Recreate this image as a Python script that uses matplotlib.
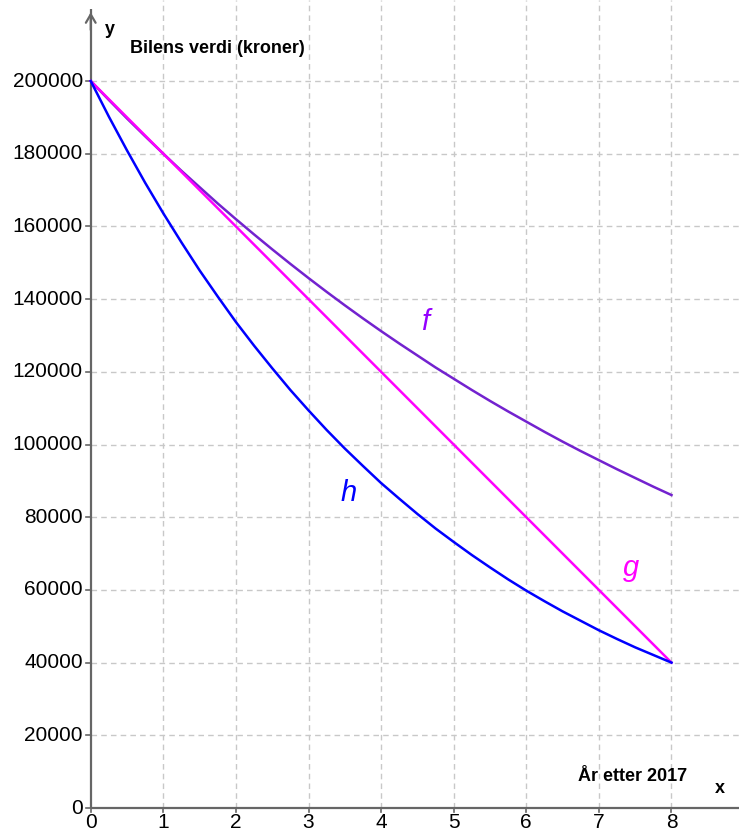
import matplotlib
matplotlib.use("Agg")
import matplotlib.pyplot as plt

plt.rcParams['font.family'] = ['Liberation Sans', 'DejaVu Sans']

# Data
x_vals = [0, 0.25, 0.5, 0.75, 1, 1.25, 1.5, 1.75, 2, 2.25, 2.5, 2.75, 3, 3.25, 3.5, 3.75,
          4, 4.25, 4.5, 4.75, 5, 5.25, 5.5, 5.75, 6, 6.25, 6.5, 6.75, 7, 7.25, 7.5, 7.75, 8]
f_vals = [200000, 194800, 189700, 184800, 180000, 175300, 170800, 166300, 162000, 157800,
          153700, 149700, 145800, 142000, 138300, 134700, 131200, 127800, 124500, 121200,
          118100, 115000, 112000, 109100, 106300, 103500, 100800, 98200, 95700, 93200,
          90800, 88400, 86100]
g_vals = [200000, 195000, 190000, 185000, 180000, 175000, 170000, 165000, 160000, 155000,
          150000, 145000, 140000, 135000, 130000, 125000, 120000, 115000, 110000, 105000,
          100000, 95000, 90000, 85000, 80000, 75000, 70000, 65000, 60000, 55000,
          50000, 45000, 40000]
h_vals = [200000, 190200, 180900, 172000, 163600, 155600, 147900, 140700, 133700, 127200,
          121000, 115000, 109400, 104000, 98900, 94100, 89400, 85100, 80900, 76900,
          73200, 69600, 66200, 62900, 59800, 56900, 54100, 51500, 48900, 46500,
          44200, 42100, 40000]

x_ticks = [0, 1, 2, 3, 4, 5, 6, 7, 8]
y_ticks = [0, 20000, 40000, 60000, 80000, 100000, 120000, 140000, 160000, 180000, 200000]

xmin, xmax = -1.25, 8.93
ymin, ymax = -6600, 222300

fig = plt.figure(figsize=(7.39, 8.32), dpi=100)
ax = fig.add_axes([0, 0, 1, 1])
ax.set_xlim(xmin, xmax)
ax.set_ylim(ymin, ymax)
for s in ax.spines.values():
    s.set_visible(False)
ax.set_xticks([])
ax.set_yticks([])

grid_kw = dict(color='#c8c8c8', linestyle=(0, (4, 3)), linewidth=1.0, zorder=1)
for xt in x_ticks[1:]:
    ax.vlines(xt, 0, ymax, **grid_kw)
for yt in y_ticks[1:]:
    ax.hlines(yt, 0, xmax, **grid_kw)

axis_col = '#666666'
ax.plot([0, xmax], [0, 0], color=axis_col, lw=1.6, zorder=2, solid_capstyle='butt')
ax.plot([0, 0], [0, ymax - 2500], color=axis_col, lw=1.6, zorder=2, solid_capstyle='butt')
ax.annotate('', xy=(0, ymax - 2600), xytext=(0, ymax - 9000),
            arrowprops=dict(arrowstyle='->,head_length=0.6,head_width=0.35', color=axis_col, lw=1.6))

for xt in x_ticks:
    ax.plot([xt, xt], [0, -1000], color=axis_col, lw=1.2, zorder=2)
for yt in y_ticks:
    ax.plot([0, -0.06], [yt, yt], color=axis_col, lw=1.2, zorder=2)

for xt in x_ticks:
    ax.text(xt, -1500, str(xt), ha='center', va='top', fontsize=15, color='black')
for yt in y_ticks:
    ax.text(-0.11, yt, str(yt), ha='right', va='center', fontsize=15, color='black')

ax.plot(x_vals, f_vals, color='#7322CF', lw=1.8, zorder=3)
ax.plot(x_vals, g_vals, color='#FF00FF', lw=1.8, zorder=3)
ax.plot(x_vals, h_vals, color='#0000FF', lw=1.8, zorder=3)

ax.text(4.60, 133700, 'f', color='#9400FF', fontsize=21, style='italic', ha='center', va='center')
ax.text(3.55, 86700, 'h', color='#0000FF', fontsize=21, style='italic', ha='center', va='center')
ax.text(7.45, 66000, 'g', color='#FF00FF', fontsize=21, style='italic', ha='center', va='center')

ax.text(0.26, 214200, 'y', fontsize=13, fontweight='bold', ha='center', va='center')
ax.text(0.54, 209000, 'Bilens verdi (kroner)', fontsize=13, fontweight='bold', ha='left', va='center')
ax.text(8.66, 5500, 'x', fontsize=13, fontweight='bold', ha='center', va='center')
ax.text(6.71, 8800, 'År etter 2017', fontsize=13, fontweight='bold', ha='left', va='center')

fig.savefig('out.png', dpi=100)
